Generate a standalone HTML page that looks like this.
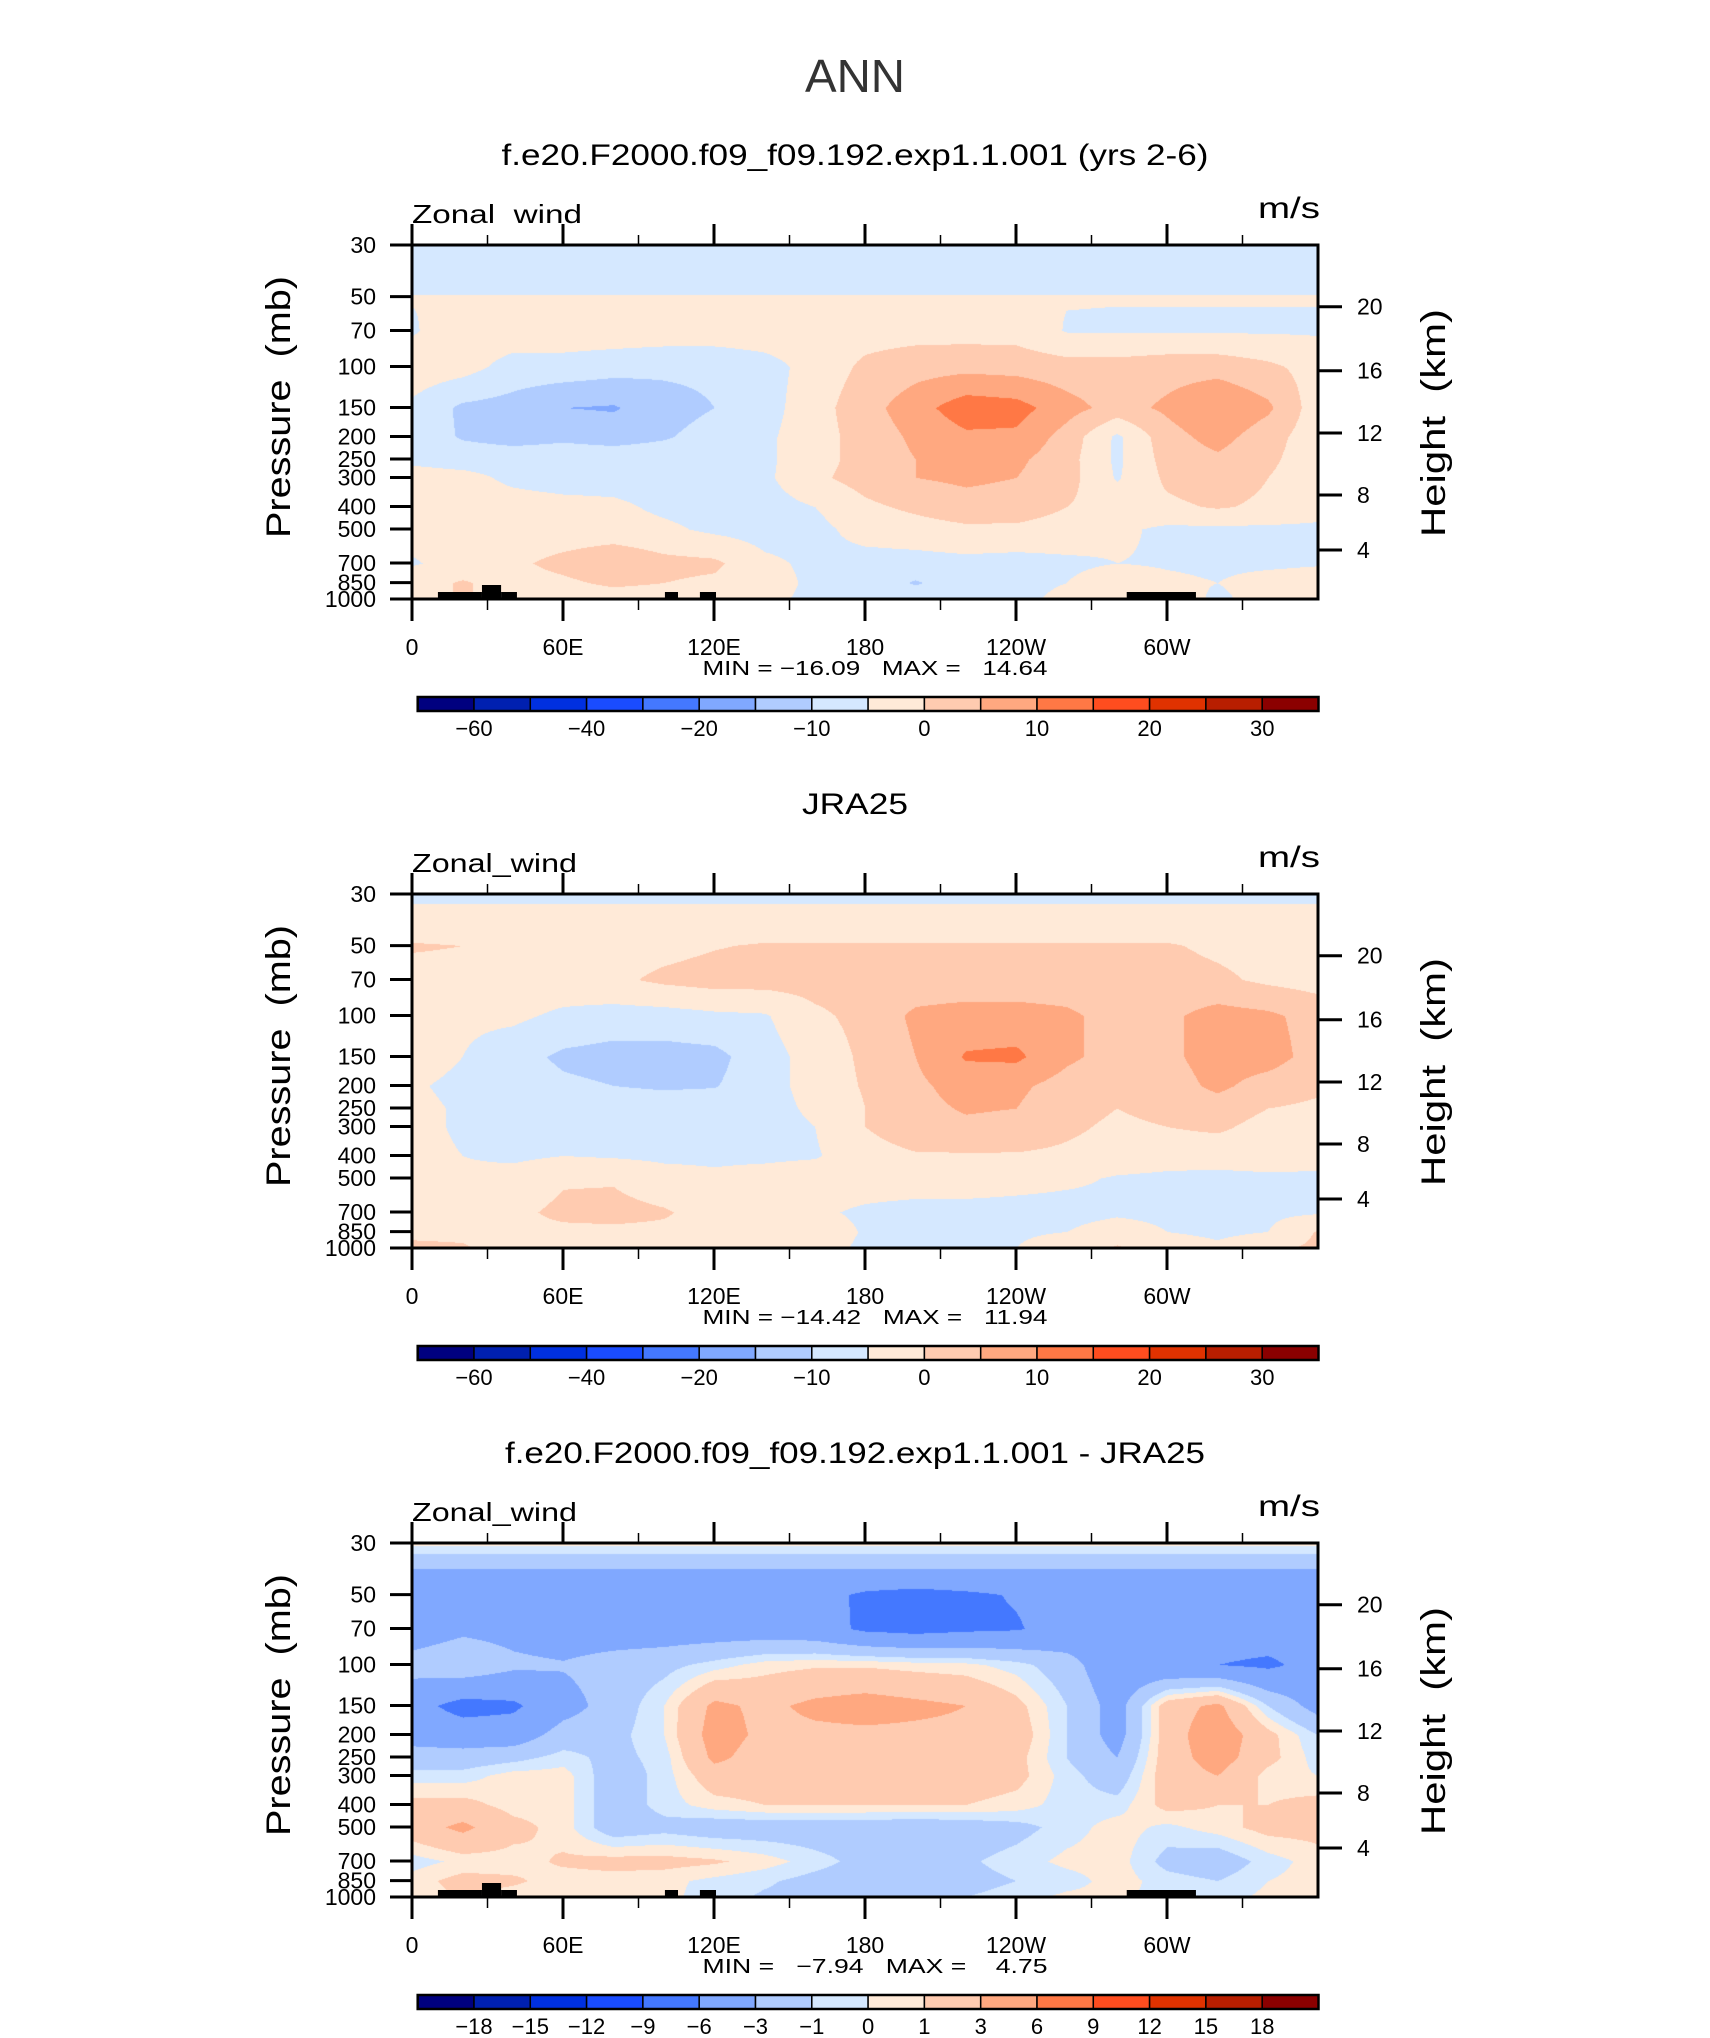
<!DOCTYPE html>
<html><head><meta charset="utf-8"><style>
html,body{margin:0;padding:0;background:#fff;}
#wrap{position:relative;width:1710px;height:2038px;overflow:hidden;}
canvas{position:absolute;}
svg{position:absolute;left:0;top:0;}
</style></head><body>
<div id="wrap">
<canvas id="c0" width="906" height="354" style="left:412px;top:245px"></canvas>
<canvas id="c1" width="906" height="354" style="left:412px;top:894px"></canvas>
<canvas id="c2" width="906" height="354" style="left:412px;top:1543px"></canvas>
<svg id="ov" width="1710" height="2038"></svg>
</div>
<script>
// ---- data ----
const lons = [0,20,40,60,80,100,120,140,160,180,200,220,240,260,280,300,320,340,360];
const levels = [30,40,50,70,100,150,200,250,300,400,500,700,850,1000];
const cmap = ["#00007f","#0020b0","#0030e0","#1a4cff","#4478ff","#80a8ff","#b0ccff","#d5e8ff","#ffead8","#ffcbb0","#ffa880","#ff7845","#ff4d1f","#e03200","#b81e00","#8b0000"];
const bndAbs = [-60,-50,-40,-30,-20,-15,-10,-5,0,5,10,15,20,25,30];
const bndDiff = [-18,-15,-12,-9,-6,-3,-1,0,1,3,6,9,12,15,18];
const lblAbs = ["-60","","-40","","-20","","-10","","0","","10","","20","","30"];
const lblDiff = ["-18","-15","-12","-9","-6","-3","-1","0","1","3","6","9","12","15","18"];
const lonTicks = ["0","60E","120E","180","120W","60W"];
const heightTicks = [20,16,12,8,4];

const model = [
[-7,-7,-7,-7,-7,-7,-7,-7,-7,-7,-7,-7,-7,-7,-7,-7,-7,-7,-7],
[-7,-7,-7,-7,-7,-7,-7,-7,-7,-7,-7,-7,-7,-7,-7,-7,-7,-7,-7],
[-4.8,-4.8,-4.8,-4.8,-4.8,-4.8,-4.8,-4.8,-4.8,-4.8,-4.8,-4.8,-4.8,-4.8,-4.8,-4.8,-4.8,-4.8,-4.8],
[-5.5,-2,-2,-2,-2,-2,-2,-2,-2,-2,-2,-2,-2,-5.3,-5.5,-5.5,-5.5,-5.5,-5.5],
[-2,-3,-7,-7,-8,-9,-9,-7,-3,1,3,3.5,3,2,2,3,3,1,-2],
[-6,-11,-12,-15,-15.5,-12,-10,-7,-2,3,8,13,12,7,3,6,10,6,-3],
[-7,-10.5,-12,-11,-12,-10.5,-8,-6,-2,2,6,9,9,3,-6,3,7,2,-3],
[-6,-7,-7,-7,-7,-7,-7,-6,-2,2,5,7,6,2,-6,2,4,1,-3],
[-3,-3.5,-6,-7,-7,-7,-7,-6,-1,2,5,6,5,2,-5.5,1,3,0,-3],
[-3,-3,-3,-3.5,-4,-6,-7,-7,-5,-1,1,3,2.5,0,-2,-1,0.5,-1,-3],
[-3,-3,-3,-3,-3,-4,-6,-7,-6.5,-3,-2,-1,-1,-2,-4,-6,-6,-6,-6],
[-5.5,-3,-1,1.5,4,1.5,1,-4,-6,-7,-7,-6.5,-7,-6,-5,-5.5,-6,-6,-5.5],
[-2,0.5,-2,-1,1,0,-1,-3,-6,-7,-10.5,-7,-6,-5,-2,-4,-5,-3,-2],
[-2,0.5,-2,-3,-3,-3,-3,-4,-6,-7,-7,-6,-6,-4,-1,-2,-6,-3,-2]
];
const jra = [
[-6,-6,-6,-6,-6,-6,-6,-6,-6,-6,-6,-6,-6,-6,-6,-6,-6,-6,-6],
[-3,-3,-3,-3,-3,-3,-3,-3,-3,-3,-3,-3,-3,-3,-3,-3,-3,-3,-3],
[0.5,0,-2,-2,-2,-1.5,-0.3,0.5,0.5,0.5,0.5,0.5,0.5,0.5,0.5,0.5,-1,-2,-2],
[-2,-2,-2,-2,-1,1,2,2,2,2,2,2,2,2,2,2,1,-1,-2],
[-3,-4,-4,-6,-7,-7,-6,-5.5,-1,1.5,6,7,7,6,3,4,7,6,3],
[-3,-5,-8,-11,-12,-12,-11.5,-7,-3,1,5,10.5,11,6,3,4,7,7,3],
[-4.5,-6,-7,-9,-10,-10.7,-10.3,-7,-3,0.5,4,7,6,3,1,3,6,3,1],
[-4,-5.5,-7,-7,-7,-7,-7,-7,-4,0,3.5,5.5,5,2,0,1.5,3,0,-1],
[-4,-5.5,-7,-7,-7,-7,-7,-7,-5,0,3,4,3.5,1,-1,0,1,-2,-3],
[-4,-5,-6,-5,-5.5,-6,-6,-6,-5.5,-2,-0.5,-0.5,-0.5,-1,-2,-3,-3.5,-2.5,-3],
[-3,-4,-3,-0.5,-0.5,-3,-4,-3,-2,-2,-2,-2,-3,-4,-5.5,-6,-6,-6,-6],
[-3,-2,-1,1,1.5,0.5,-2,-3,-4,-6,-7,-7,-7,-7,-6,-6.5,-6.5,-6,-5.5],
[-1,-1,-1,-1,-1,-1,-1.5,-1.5,-2,-5.5,-6,-6,-5.5,-5,-2,-5,-6,-5,0.5],
[1,0.5,-2,-2,-2,-2,-2,-2.5,-3,-6,-6,-6,-5,-3,0.5,-2,-4,-1,1]
];
const diff = [
[0.4,0.4,0.4,0.4,0.4,0.4,0.4,0.4,0.4,0.4,0.4,0.4,0.4,0.4,0.4,0.4,0.4,0.4,0.4],
[-3.5,-3.5,-3.5,-3.5,-3.5,-3.5,-3.5,-3.5,-3.5,-3.5,-3.5,-3.5,-3.5,-3.5,-3.5,-3.5,-3.5,-3.5,-3.5],
[-4.8,-4.8,-4.8,-4.8,-4.8,-4.8,-4.8,-4.8,-5,-6.5,-7,-6.5,-5.8,-5,-4.8,-4.8,-4.8,-4.8,-4.8],
[-4.5,-3.5,-3.8,-4.5,-4.5,-4.5,-4.5,-4.5,-4.8,-6.5,-7,-6.5,-6.2,-5,-4.5,-4.5,-4.5,-4.5,-4.5],
[-2,-1.2,-2.5,-2.8,-2,-1.5,-0.5,0.5,0.8,0.8,0.5,0.3,-0.5,-2,-5,-5.5,-6,-6.5,-5],
[-5,-7,-6.5,-4,-2,0,3.5,2.5,3.5,4,3.5,3,1.5,-1,-4,2,3.5,-1,-4],
[-4,-4.5,-4.5,-2,-1.5,0,4,2.5,2.5,2.5,2.5,2.5,2,-1,-4,2,4.5,1.5,-1],
[-2,-2,-1.5,-0.5,-1.5,-0.5,3.5,2,2,2,2,2,1.5,-1,-3,2,4,1.5,-0.5],
[-0.5,-0.5,0.5,0.5,-2,-0.5,2,2,2,2,2,2,1.5,-0.5,-2,2,3,0.5,0],
[1.5,1.5,0.5,0.5,-2,-0.5,0.5,1,1,1,1,1,0.5,-0.5,-0.5,1.5,1,1,1.5],
[2,3.5,1.5,0.5,-2,-1.5,-2,-2,-2,-2,-2.2,-2,-1.5,-0.5,0.5,-0.3,0.5,1.5,1.5],
[-0.5,0.3,0.5,1.2,1.5,1.5,1.2,0.5,-0.5,-1.5,-1.5,-1.2,-0.5,0.3,0.5,-1.5,-2,-0.5,0.5],
[0.5,1.5,1.2,0.5,0.5,0.3,-0.3,-0.8,-1.5,-2,-2,-1.5,-1,-0.5,0.5,-0.5,-1,0,0.5],
[0.5,1,0.5,0.3,0.3,0.3,-0.5,-1.2,-1.5,-1.5,-1.5,-1,-0.5,0.3,0.3,-0.5,-0.5,0.3,0.5]
];
const landLon = [[10.3,27.8,7],[27.8,35.4,14],[35.4,41.7,7],[100.5,105.7,7],[114.4,120.8,7],[284,311.5,7]];

// ---- geometry ----
const PW=906, PH=354, PL=412;
const panelTops=[245,894,1543];
function yOf(p){return PH*Math.log(p/30)/Math.log(1000/30);}
function xOf(lon){return PW*lon/360;}
const NS="http://www.w3.org/2000/svg";
const ov=document.getElementById('ov');
function mk(tag,attrs,parent){const e=document.createElementNS(NS,tag);for(const k in attrs)e.setAttribute(k,attrs[k]);(parent||ov).appendChild(e);return e;}

function hexToRgb(h){return [parseInt(h.substr(1,2),16),parseInt(h.substr(3,2),16),parseInt(h.substr(5,2),16)];}
const rgb=cmap.map(hexToRgb);

function drawField(cid,grid,bnd){
  const cv=document.getElementById(cid),ctx=cv.getContext('2d');
  const img=ctx.createImageData(PW,PH);
  const ly=levels.map(yOf);
  for(let y=0;y<PH;y++){
    let j=0;while(j<levels.length-2&&ly[j+1]<y)j++;
    const ty=Math.min(1,Math.max(0,(y-ly[j])/(ly[j+1]-ly[j])));
    for(let x=0;x<PW;x++){
      const lon=x/PW*360;let i=Math.min(lons.length-2,Math.floor(lon/20));
      const tx=(lon-lons[i])/20;
      const v=(grid[j][i]*(1-tx)+grid[j][i+1]*tx)*(1-ty)+(grid[j+1][i]*(1-tx)+grid[j+1][i+1]*tx)*ty;
      let c=0;while(c<bnd.length&&v>=bnd[c])c++;
      const col=rgb[c],k=(y*PW+x)*4;
      img.data[k]=col[0];img.data[k+1]=col[1];img.data[k+2]=col[2];img.data[k+3]=255;
    }
  }
  ctx.putImageData(img,0,0);
}
drawField('c0',model,bndAbs);
drawField('c1',jra,bndAbs);
drawField('c2',diff,bndDiff);

const ann=mk('text',{x:855,y:92,'font-size':46,'text-anchor':'middle','font-family':'Liberation Sans, sans-serif',fill:'#333',textLength:100,lengthAdjust:'spacingAndGlyphs'});
ann.textContent='ANN';


const titles=['f.e20.F2000.f09_f09.192.exp1.1.001 (yrs 2-6)','JRA25','f.e20.F2000.f09_f09.192.exp1.1.001 - JRA25'];
const tlen=[707,106,700];
const mins=['MIN = \u221216.09   MAX =   14.64','MIN = \u221214.42   MAX =   11.94','MIN =   \u22127.94   MAX =    4.75'];
const varNames=['Zonal  wind','Zonal_wind','Zonal_wind'];
const pTicks=[30,50,70,100,150,200,250,300,400,500,700,850,1000];
const hOff=[61.7,125.7,188,250,305];

panelTops.forEach((T,pi)=>{
  const g=mk('g',{});
  
  
  let e=mk('text',{x:855,y:T-80,'font-size':30,'text-anchor':'middle','font-family':'Liberation Sans, sans-serif',textLength:tlen[pi],lengthAdjust:'spacingAndGlyphs'},g);
  e.textContent=titles[pi];
  
  
  e=mk('text',{x:412,y:T-22,'font-size':26,'font-family':'Liberation Sans, sans-serif',textLength:pi==0?170:165,lengthAdjust:'spacingAndGlyphs',style:'white-space:pre'},g);
  e.textContent=varNames[pi];
  
  
  e=mk('text',{x:1320,y:T-27,'font-size':30,'text-anchor':'end','font-family':'Liberation Sans, sans-serif',textLength:62,lengthAdjust:'spacingAndGlyphs'},g);
  e.textContent='m/s';
  
  
  if(pi!==1){landLon.forEach(r=>{const m=mk('rect',{x:PL+xOf(r[0]),y:T+PH-r[2],width:xOf(r[1])-xOf(r[0]),height:r[2],fill:'#000'},g);
    
    });}
  e=mk('rect',{x:PL,y:T,width:PW,height:PH,fill:'none',stroke:'#000','stroke-width':3},g);
  
  
  for(let lon=0;lon<360;lon+=30){
    const x=PL+xOf(lon),maj=lon%60==0;
    mk('line',{x1:x,x2:x,y1:T+PH,y2:T+PH+(maj?22:11),stroke:'#000','stroke-width':maj?3:1.5},g);
    mk('line',{x1:x,x2:x,y1:T,y2:T-(maj?21:10),stroke:'#000','stroke-width':maj?3:1.5},g);
  }
  lonTicks.forEach((s,k)=>{const t=mk('text',{x:PL+xOf(k*60),y:T+PH+56,'font-size':23,'text-anchor':'middle','font-family':'Liberation Sans, sans-serif'},g);t.textContent=s;
    
    });
  pTicks.forEach(p=>{const y=T+yOf(p);mk('line',{x1:PL-22,x2:PL,y1:y,y2:y,stroke:'#000','stroke-width':3},g);
    const t=mk('text',{x:PL-36,y:y+8,'font-size':23,'text-anchor':'end','font-family':'Liberation Sans, sans-serif'},g);t.textContent=p;
    
    });
  heightTicks.forEach((h,k)=>{const y=T+hOff[k];mk('line',{x1:PL+PW,x2:PL+PW+24,y1:y,y2:y,stroke:'#000','stroke-width':3},g);
    const t=mk('text',{x:1357,y:y+8,'font-size':23,'font-family':'Liberation Sans, sans-serif'},g);t.textContent=h;
    
    });
  e=mk('text',{x:0,y:0,'font-size':34,'text-anchor':'middle','font-family':'Liberation Sans, sans-serif',textLength:262,lengthAdjust:'spacingAndGlyphs',transform:`translate(290,${T+162}) rotate(-90)`,style:'white-space:pre'},g);
  e.textContent='Pressure  (mb)';
  
  
  e=mk('text',{x:0,y:0,'font-size':34,'text-anchor':'middle','font-family':'Liberation Sans, sans-serif',textLength:228,lengthAdjust:'spacingAndGlyphs',transform:`translate(1445,${T+178}) rotate(-90)`,style:'white-space:pre'},g);
  e.textContent='Height  (km)';
  
  
  e=mk('text',{x:875,y:T+PH+76,'font-size':20,'text-anchor':'middle','font-family':'Liberation Sans, sans-serif',textLength:345,lengthAdjust:'spacingAndGlyphs',style:'white-space:pre'},g);
  e.textContent=mins[pi];
  
  
  const cb=mk('g',{},g);
  
  
  const cy=T+452,cw=56.3,cx=417.7;
  cmap.forEach((c,k)=>{const r=mk('rect',{x:cx+k*cw,y:cy,width:cw,height:14,fill:c,stroke:'#000','stroke-width':1.5},cb);
    
    });
  mk('rect',{x:cx,y:cy,width:cw*16,height:14,fill:'none',stroke:'#000','stroke-width':2.5},cb);
  const labs=pi==2?lblDiff:lblAbs;
  labs.forEach((s,k)=>{if(!s)return;const t=mk('text',{x:cx+(k+1)*cw,y:cy+39,'font-size':22,'text-anchor':'middle','font-family':'Liberation Sans, sans-serif'},cb);t.textContent=s.replace('-','\u2212');
    
    });
});
</script>
</body></html>
